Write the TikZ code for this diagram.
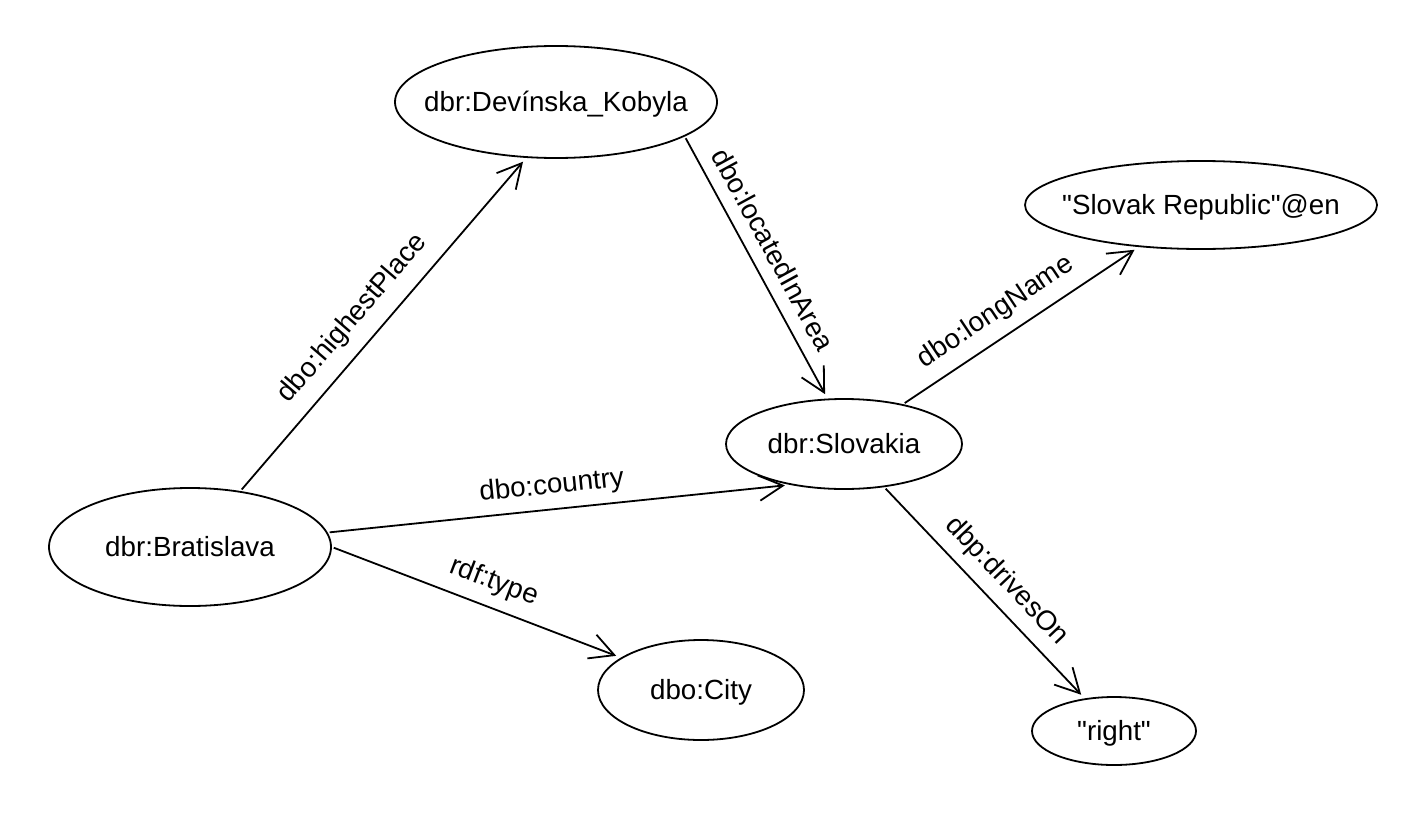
\documentclass[tikz,border=0pt]{standalone}
\usepackage{fontspec}
\setmainfont{Liberation Sans}
\usetikzlibrary{shapes.geometric,arrows.meta}
\newdimen\upx \upx=0.75pt
\begin{document}
\begin{tikzpicture}[x=0.75pt,y=-0.75pt,
  ent/.style={draw, ellipse, line width=1.8\upx, inner sep=0pt, text height=14.9pt, text depth=0pt,
    font=\fontsize{20.8pt}{24pt}\selectfont},
  rel/.style={line width=1.8\upx, -{Straight Barb[length=18pt,width=19pt]}, shorten >=5\upx, shorten <=2\upx},
  lbl/.style={inner sep=0pt, text depth=0pt, sloped, font=\fontsize{20.8pt}{24pt}\selectfont}]
\useasboundingbox (0,0) rectangle (1401,817);
\node[ent, minimum width=322\upx, minimum height=112\upx] (dev) at (556,102) {\makebox[0pt]{dbr:Devínska\_Kobyla}};
\node[ent, minimum width=352\upx, minimum height=88\upx] (slrep) at (1201,205) {\makebox[0pt]{\textquotedbl Slovak Republic\textquotedbl @en}};
\node[ent, minimum width=236\upx, minimum height=90\upx] (slk) at (844,444) {\makebox[0pt]{dbr:Slovakia}};
\node[ent, minimum width=282\upx, minimum height=118\upx] (brat) at (190,547) {\makebox[0pt]{dbr:Bratislava}};
\node[ent, minimum width=206\upx, minimum height=100\upx] (city) at (701,690) {\makebox[0pt]{dbo:City}};
\node[ent, minimum width=164\upx, minimum height=68\upx] (rgt) at (1114,731) {\makebox[0pt]{\textquotedbl right\textquotedbl}};
\draw[rel] (brat.48) -- (dev.242) node[lbl, pos=0.465, above=19\upx] {dbo:highestPlace};
\draw[rel] (dev.-15) -- (slk.110) node[lbl, pos=0.475, above=13\upx] {dbo:locatedInArea};
\draw[rel] (slk.34) -- (slrep.214) node[lbl, pos=0.453, above=17\upx] {dbo:longName};
\draw[rel] (brat.6) -- (slk.217) node[lbl, pos=0.49, above=15\upx] {dbo:country};
\draw[rel] (brat.0) -- (city.158) node[lbl, pos=0.53, above=17\upx] {rdf:type};
\draw[rel] (slk.-47) -- (rgt.132) node[lbl, pos=0.524, above=16\upx] {dbp:drivesOn};
\end{tikzpicture}
\end{document}
